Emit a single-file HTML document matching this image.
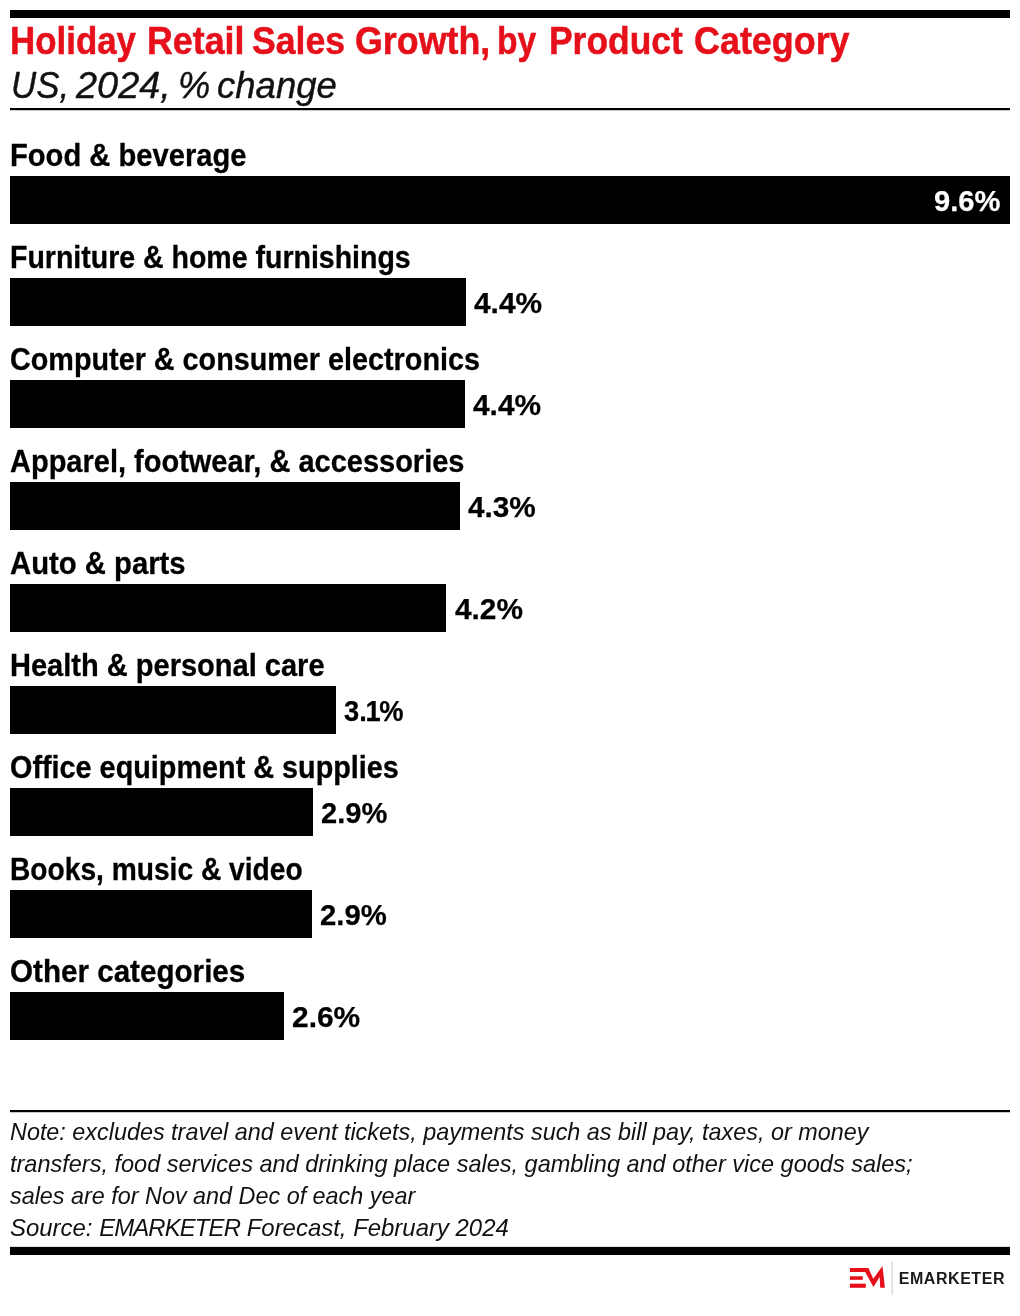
<!DOCTYPE html>
<html><head><meta charset="utf-8">
<style>
html,body{margin:0;padding:0;background:#fff;}
body{width:1020px;height:1316px;position:relative;overflow:hidden;font-family:"Liberation Sans",sans-serif;color:#000;}
.abs{position:absolute;white-space:nowrap;transform-origin:0 0;}
.topbar{left:10px;top:10px;width:1000px;height:8px;background:#000;}
.title{left:10px;top:21px;font-size:38px;font-weight:bold;color:#e6101b;line-height:40px;-webkit-text-stroke:0.5px #e6101b;word-spacing:-2.2px;}
.sub{left:10px;top:64.5px;font-size:37.5px;font-style:italic;color:#111;line-height:40px;-webkit-text-stroke:0.4px #111;word-spacing:-2px;}
.hr1{left:10px;top:108px;width:1000px;height:2px;background:#000;box-shadow:0 1px 0 rgba(0,0,0,.22);}
.lbl{left:10px;font-size:31px;font-weight:bold;line-height:32px;color:#000;-webkit-text-stroke:0.3px #000;}
.bar{left:10px;height:48px;background:#000;}
.val{font-size:30px;font-weight:bold;line-height:32px;color:#000;-webkit-text-stroke:0.25px;}
.hr2{left:10px;top:1110px;width:1000px;height:2px;background:#000;box-shadow:0 1px 0 rgba(0,0,0,.22);}
.note{left:10px;font-size:24px;font-style:italic;line-height:32px;color:#111;}
.botbar{left:10px;top:1247px;width:1000px;height:8px;background:#000;box-shadow:0 -1px 0 rgba(0,0,0,.12);}
</style></head><body>
<div class="abs topbar"></div>
<div class="abs title" style="left:0;width:1020px;height:40px"><span class="abs" id="t0" style="left:10.38px;transform:scaleX(0.9182)">Holiday</span> <span class="abs" id="t1" style="left:147.0px;transform:scaleX(0.9412)">Retail</span> <span class="abs" id="t2" style="left:252.38px;transform:scaleX(0.9368)">Sales</span> <span class="abs" id="t3" style="left:355.0px;transform:scaleX(0.9424)">Growth,</span> <span class="abs" id="t4" style="left:497.38px;transform:scaleX(0.8845)">by</span> <span class="abs" id="t5" style="left:548.62px;transform:scaleX(0.9317)">Product</span> <span class="abs" id="t6" style="left:694.0px;transform:scaleX(0.9446)">Category</span></div>
<div class="abs sub" style="left:0;width:1020px;height:40px"><span class="abs" id="s0" style="left:10.88px;transform:scaleX(0.9298)">US,</span> <span class="abs" id="s1" style="left:76.0px;transform:scaleX(1.01)">2024,</span> <span class="abs" id="s2" style="left:178.0px;transform:scaleX(0.9667)">%</span> <span class="abs" id="s3" style="left:217.38px;transform:scaleX(0.974)">change</span></div>
<div class="abs hr1"></div>

<div class="abs lbl" id="l0" style="top:140px;transform:scaleX(0.94024)">Food &amp; beverage</div>
<div class="abs bar" style="top:176px;width:1000px"></div>
<div class="abs val" id="v0" style="top:185px;left:934.0px;transform:scaleX(0.9701);color:#fff">9.6%</div>
<div class="abs lbl" id="l1" style="top:242px;transform:scaleX(0.91954)">Furniture &amp; home furnishings</div>
<div class="abs bar" style="top:278px;width:456px"></div>
<div class="abs val" id="v1" style="top:287px;left:473.5px;transform:scaleX(0.9953)">4.4%</div>
<div class="abs lbl" id="l2" style="top:344px;transform:scaleX(0.92789)">Computer &amp; consumer electronics</div>
<div class="abs bar" style="top:380px;width:455px"></div>
<div class="abs val" id="v2" style="top:389px;left:473.0px;transform:scaleX(0.9953)">4.4%</div>
<div class="abs lbl" id="l3" style="top:446px;transform:scaleX(0.93534)">Apparel, footwear, &amp; accessories</div>
<div class="abs bar" style="top:482px;width:450px"></div>
<div class="abs val" id="v3" style="top:491px;left:468.4px;transform:scaleX(0.9915)">4.3%</div>
<div class="abs lbl" id="l4" style="top:548px;transform:scaleX(0.9439)">Auto &amp; parts</div>
<div class="abs bar" style="top:584px;width:436.3px"></div>
<div class="abs val" id="v4" style="top:593px;left:454.9px;transform:scaleX(0.9942)">4.2%</div>
<div class="abs lbl" id="l5" style="top:650px;transform:scaleX(0.93618)">Health &amp; personal care</div>
<div class="abs bar" style="top:686px;width:325.5px"></div>
<div class="abs val" id="v5" style="top:695px;left:344.4px;transform:scaleX(0.91)">3.<span style="margin:0 -1.5px 0 -1.5px">1</span>%</div>
<div class="abs lbl" id="l6" style="top:752px;transform:scaleX(0.92902)">Office equipment &amp; supplies</div>
<div class="abs bar" style="top:788px;width:303px"></div>
<div class="abs val" id="v6" style="top:797px;left:321.0px;transform:scaleX(0.9701)">2.9%</div>
<div class="abs lbl" id="l7" style="top:854px;transform:scaleX(0.90838)">Books, music &amp; video</div>
<div class="abs bar" style="top:890px;width:302px"></div>
<div class="abs val" id="v7" style="top:899px;left:319.5px;transform:scaleX(0.9754)">2.9%</div>
<div class="abs lbl" id="l8" style="top:956px;transform:scaleX(0.9551)">Other categories</div>
<div class="abs bar" style="top:992px;width:273.8px"></div>
<div class="abs val" id="v8" style="top:1001px;left:291.9px;transform:scaleX(0.9968)">2.6%</div>
<div class="abs hr2"></div>
<div class="abs note" id="n0" style="top:1116px;transform:scaleX(0.97393)">Note: excludes travel and event tickets, payments such as bill pay, taxes, or money</div>
<div class="abs note" id="n1" style="top:1148px;transform:scaleX(0.97906)">transfers, food services and drinking place sales, gambling and other vice goods sales;</div>
<div class="abs note" id="n2" style="top:1180px;transform:scaleX(0.97362)">sales are for Nov and Dec of each year</div>
<div class="abs note" id="n3" style="top:1212px;transform:scaleX(0.99739)">Source: <span style="letter-spacing:-0.9px">EMARKETER</span> Forecast, February 2024</div>
<div class="abs botbar"></div>
<svg class="abs" style="left:840px;top:1256px" width="60" height="44" viewBox="840 1256 60 44">
<polygon fill="#e6101b" points="849.9,1268.1 868.4,1268.1 873.25,1278.65 882.5,1266 884.9,1287.8 880.2,1287.8 879.7,1276.9 873.4,1286.9 865.2,1271.9 849.9,1271.9"/>
<rect fill="#e6101b" x="849.9" y="1276.3" width="12.9" height="3.5"/>
<rect fill="#e6101b" x="849.9" y="1283.65" width="15.9" height="4.15"/>
<rect fill="#cfcfcf" x="891.6" y="1261.3" width="1.1" height="33.2"/>
</svg>
<div class="abs" id="logo" style="top:1269px;left:898.7px;font-size:16px;font-weight:bold;line-height:20px;color:#1a1a1a;letter-spacing:0.556px">EMARKETER</div>
</body></html>
